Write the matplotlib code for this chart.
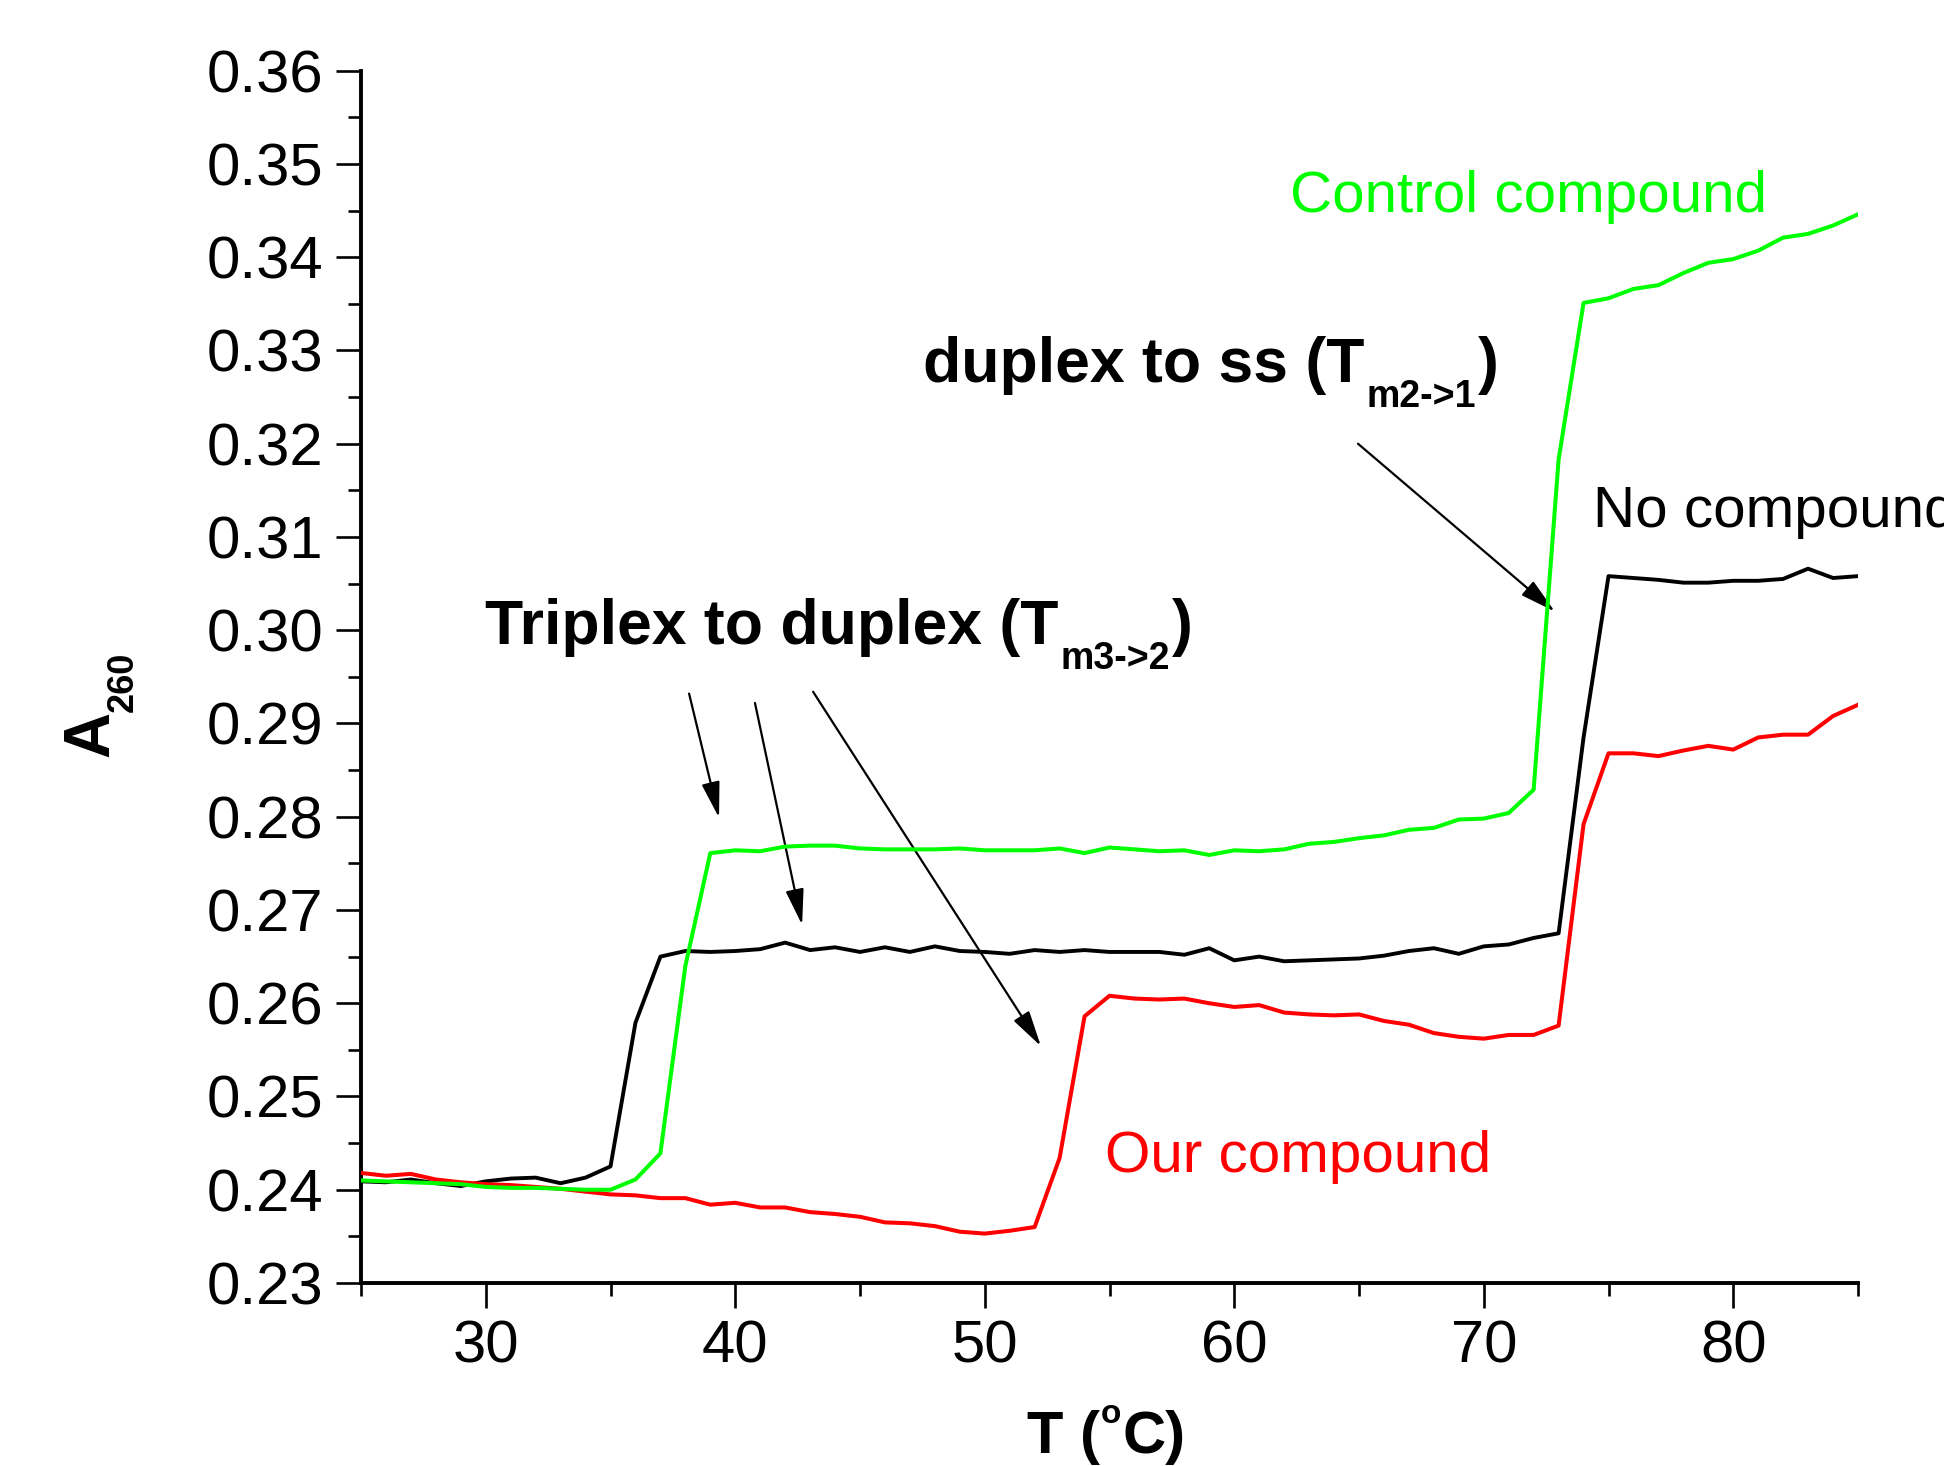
import matplotlib
matplotlib.use("Agg")
import matplotlib.pyplot as plt
from matplotlib.ticker import MultipleLocator, FormatStrFormatter

# ---------------- data ----------------
temperature = [25, 26, 27, 28, 29, 30, 31, 32, 33, 34, 35, 36, 37, 38, 39, 40,
               41, 42, 43, 44, 45, 46, 47, 48, 49, 50, 51, 52, 53, 54, 55, 56,
               57, 58, 59, 60, 61, 62, 63, 64, 65, 66, 67, 68, 69, 70, 71, 72,
               73, 74, 75, 76, 77, 78, 79, 80, 81, 82, 83, 84, 85]

no_compound = [0.2409, 0.2408, 0.2411, 0.2407, 0.2404, 0.2409, 0.2412, 0.2413,
               0.2407, 0.2413, 0.2425, 0.2579, 0.2650, 0.2656, 0.2655, 0.2656,
               0.2658, 0.2665, 0.2657, 0.2660, 0.2655, 0.2660, 0.2655, 0.2661,
               0.2656, 0.2655, 0.2653, 0.2657, 0.2655, 0.2657, 0.2655, 0.2655,
               0.2655, 0.2652, 0.2659, 0.2646, 0.2650, 0.2645, 0.2646, 0.2647,
               0.2648, 0.2651, 0.2656, 0.2659, 0.2653, 0.2661, 0.2663, 0.2670,
               0.2675, 0.2885, 0.3058, 0.3056, 0.3054, 0.3051, 0.3051, 0.3053,
               0.3053, 0.3055, 0.3066, 0.3056, 0.3058]

control_compound = [0.2410, 0.2409, 0.2408, 0.2407, 0.2406, 0.2403, 0.2402, 0.2402,
                    0.2401, 0.2400, 0.2400, 0.2411, 0.2439, 0.2640, 0.2761, 0.2764,
                    0.2763, 0.2768, 0.2769, 0.2769, 0.2766, 0.2765, 0.2765, 0.2765,
                    0.2766, 0.2764, 0.2764, 0.2764, 0.2766, 0.2761, 0.2767, 0.2765,
                    0.2763, 0.2764, 0.2759, 0.2764, 0.2763, 0.2765, 0.2771, 0.2773,
                    0.2777, 0.2780, 0.2786, 0.2788, 0.2797, 0.2798, 0.2804, 0.2829,
                    0.3183, 0.3351, 0.3356, 0.3366, 0.3370, 0.3383, 0.3394, 0.3398,
                    0.3407, 0.3421, 0.3425, 0.3434, 0.3446]

our_compound = [0.2418, 0.2415, 0.2417, 0.2411, 0.2408, 0.2406, 0.2405, 0.2403,
                0.2401, 0.2398, 0.2395, 0.2394, 0.2391, 0.2391, 0.2384, 0.2386,
                0.2381, 0.2381, 0.2376, 0.2374, 0.2371, 0.2365, 0.2364, 0.2361,
                0.2355, 0.2353, 0.2356, 0.2360, 0.2434, 0.2586, 0.2608, 0.2605,
                0.2604, 0.2605, 0.2600, 0.2596, 0.2598, 0.2590, 0.2588, 0.2587,
                0.2588, 0.2581, 0.2577, 0.2568, 0.2564, 0.2562, 0.2566, 0.2566,
                0.2576, 0.2792, 0.2868, 0.2868, 0.2865, 0.2871, 0.2876, 0.2872,
                0.2885, 0.2888, 0.2888, 0.2908, 0.2920]

x_ticks = [30, 40, 50, 60, 70, 80]
y_ticks = [0.23, 0.24, 0.25, 0.26, 0.27, 0.28, 0.29, 0.30, 0.31, 0.32, 0.33,
           0.34, 0.35, 0.36]

# arrows: (start T, start A, end T, end A)
triplex_arrows = [(38.15, 0.2932, 39.35, 0.2799),
                  (40.79, 0.2922, 42.68, 0.2684),
                  (43.12, 0.2934, 52.25, 0.2554)]
duplex_arrow = (64.96, 0.3200, 72.85, 0.3020)

# ---------------- figure ----------------
plt.rcParams["font.family"] = ["Liberation Sans", "DejaVu Sans"]
W, H = 1944, 1466
fig = plt.figure(figsize=(W / 100, H / 100), dpi=100)
ax = fig.add_axes([361 / W, 183 / H, (1858 - 361) / W, (1283 - 70.7) / H])

ax.plot(temperature, no_compound, color="black", lw=2.8, zorder=3)
ax.plot(temperature, our_compound, color="#ff0000", lw=2.9, zorder=4)
ax.plot(temperature, control_compound, color="#00ff00", lw=2.9, zorder=5)

ax.set_xlim(25, 85)
ax.set_ylim(0.23, 0.36)
for s in ("top", "right"):
    ax.spines[s].set_visible(False)
for s in ("left", "bottom"):
    ax.spines[s].set_linewidth(2.8)

ax.set_xticks(x_ticks)
ax.xaxis.set_minor_locator(MultipleLocator(5))
ax.set_yticks(y_ticks)
ax.yaxis.set_minor_locator(MultipleLocator(0.005))
ax.yaxis.set_major_formatter(FormatStrFormatter("%.2f"))
ax.tick_params(axis="both", which="major", length=18, width=1.9, direction="out")
ax.tick_params(axis="both", which="minor", length=9.5, width=1.9, direction="out")
ax.tick_params(axis="y", which="major", labelsize=43, pad=9)
ax.tick_params(axis="x", which="major", labelsize=43, pad=8)

# curve labels
ax.text(62.23, 0.3448, "Control compound", color="#00ff00", fontsize=42,
        ha="left", va="baseline")
ax.text(74.38, 0.3111, "No compound", color="black", fontsize=42,
        ha="left", va="baseline")
ax.text(54.82, 0.2419, "Our compound", color="#ff0000", fontsize=42,
        ha="left", va="baseline")

# arrows
aprops = dict(arrowstyle="-|>,head_length=1.1,head_width=0.28", color="black",
              lw=1.6, shrinkA=0, shrinkB=0, mutation_scale=20)
for x0, y0, x1, y1 in triplex_arrows:
    ax.annotate("", xy=(x1, y1), xytext=(x0, y0), arrowprops=aprops)
x0, y0, x1, y1 = duplex_arrow
ax.annotate("", xy=(x1, y1), xytext=(x0, y0), arrowprops=aprops)

fig.canvas.draw()
renderer = fig.canvas.get_renderer()


def chain(x_px, y_px, pieces, **kw):
    """Draw consecutive text pieces; x_px, y_px in figure pixels (bottom-left)."""
    cx = x_px
    for s, fs, dy, gap in pieces:
        t = fig.text(cx / W, (y_px + dy) / H, s, fontsize=fs, ha="left",
                     va="baseline", **kw)
        bb = t.get_window_extent(renderer)
        cx = bb.x1 + gap


# bold annotations with subscripts
chain(923, H - 381.7, [("duplex to ss (T", 45, 0, 2),
                       ("m2->1", 27, -25, 2),
                       (")", 45, 0, 0)], fontweight="bold", color="black")
chain(485, H - 644, [("Triplex to duplex (T", 45, 0, 2),
                     ("m3->2", 27, -25, 2),
                     (")", 45, 0, 0)], fontweight="bold", color="black")

# x axis label  T (°C)
chain(1027, H - 1453, [("T (", 43, 0, 1),
                       ("o", 24, 30, 1),
                       ("C)", 43, 0, 0)], fontweight="bold", color="black")

# y axis label  A_260 (rotated)
fig.text(108 / W, (H - 757) / H, "A", fontsize=46, fontweight="bold",
         rotation=90, rotation_mode="anchor", ha="left", va="baseline")
fig.text(133 / W, (H - 712) / H, "260", fontsize=26, fontweight="bold",
         rotation=90, rotation_mode="anchor", ha="left", va="baseline")

fig.savefig("out.png", dpi=100)
